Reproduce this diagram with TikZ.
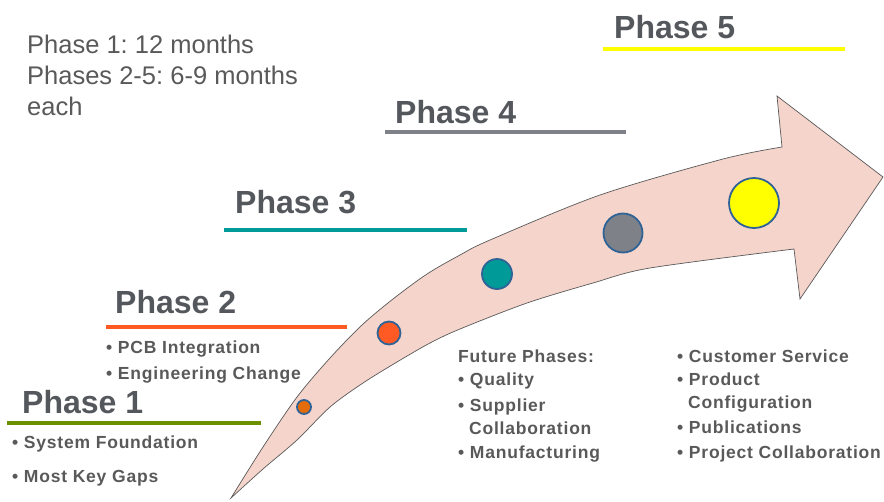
\documentclass[tikz,border=0pt]{standalone}
\usepackage{fontspec}
\setmainfont{Liberation Sans}
\newfontfamily\bulfont[LetterSpace=4.5]{Liberation Sans}
\frenchspacing
\definecolor{txt}{HTML}{595959}
\definecolor{hdrc}{HTML}{54575C}
\definecolor{arrowpink}{HTML}{F4D4CB}
\definecolor{circb}{HTML}{2F6396}
\definecolor{c1}{HTML}{E46C0A}
\definecolor{c2}{HTML}{FF5A24}
\definecolor{c3}{HTML}{009A99}
\definecolor{c4}{HTML}{7F8188}
\definecolor{c5}{HTML}{FFFF00}
\definecolor{l1}{HTML}{6A9000}
\tikzset{
  hdr/.style={anchor=base west, inner sep=0pt, text=hdrc, font=\fontsize{32}{36}\selectfont\bfseries},
  bul/.style={anchor=base west, inner sep=0pt, text=txt, font=\bulfont\fontsize{17.5}{20}\selectfont\bfseries},
  note/.style={anchor=base west, inner sep=0pt, text=txt, font=\fontsize{25.5}{30}\selectfont},
  uline/.style={line width=4.5pt},
  dot/.style={circle, draw=circb, line width=1.8pt, inner sep=0pt},
}
\begin{document}
\begin{tikzpicture}[x=1pt,y=-1pt]
\useasboundingbox (0,0) rectangle (884,501);
% arrow
\draw[fill=arrowpink, draw=black!65, line width=0.7pt, line join=miter]
  plot[smooth, tension=0.5] coordinates {(231,498) (263,447) (297,397) (330,358) (362,325) (393,299) (427,274) (460,255) (490,240) (600,195) (723,159) (782,147)}
  -- (777,96) -- (883,177) -- (800,299) -- (794,249)
  -- plot[smooth, tension=0.5] coordinates {(794,249) (650,268) (593,283) (527,303) (460,329) (430,343) (397,362) (363,383) (330,407) (297,440) (263,469) (231,498)}
  -- cycle;
% circles
\node[dot, fill=c1, minimum size=14pt] (d1) at (304,407) {};
\node[dot, fill=c2, minimum size=23pt] (d2) at (389,333) {};
\node[dot, fill=c3, minimum size=30pt] (d3) at (497,274) {};
\node[dot, fill=c4, minimum size=39pt] (d4) at (623,233) {};
\node[dot, fill=c5, minimum size=50pt] (d5) at (754,203) {};
% note
\node[note] (n1) at (27,53) {Phase 1: 12 months};
\node[note] (n2) at (27,84) {Phases 2-5: 6-9 months};
\node[note] (n3) at (27,115) {each};
% headers
\node[hdr] (h1) at (22,413) {Phase 1};
\node[hdr] (h2) at (115,313) {Phase 2};
\node[hdr] (h3) at (235,213) {Phase 3};
\node[hdr] (h4) at (395,123) {Phase 4};
\node[hdr] (h5) at (614,38) {Phase 5};
% underlines
\coordinate (u1a) at (7,423);   \coordinate (u1b) at (261,423);
\coordinate (u2a) at (106,327); \coordinate (u2b) at (347,327);
\coordinate (u3a) at (224,230); \coordinate (u3b) at (467,230);
\coordinate (u4a) at (385,132); \coordinate (u4b) at (626,132);
\coordinate (u5a) at (603,49);  \coordinate (u5b) at (845,49);
\draw[uline, l1] (u1a) -- (u1b);
\draw[uline, c2] (u2a) -- (u2b);
\draw[uline, c3] (u3a) -- (u3b);
\draw[uline, c4] (u4a) -- (u4b);
\draw[uline, c5] (u5a) -- (u5b);
% phase 1 bullets
\node[bul] (b11) at (12,448) {• System Foundation};
\node[bul] (b12) at (12,482) {• Most Key Gaps};
% phase 2 bullets
\node[bul] (b21) at (106,353) {• PCB Integration};
\node[bul] (b22) at (106,379) {• Engineering Change};
% future phases
\node[bul] (f0) at (458,362) {Future Phases:};
\node[bul] (f1) at (458,385) {• Quality};
\node[bul] (f2) at (458,411) {• Supplier};
\node[bul] (f3) at (469,434) {Collaboration};
\node[bul] (f4) at (458,458) {• Manufacturing};
% right column
\node[bul] (r1) at (677,362) {• Customer Service};
\node[bul] (r2) at (677,385) {• Product};
\node[bul] (r3) at (688,408) {Configuration};
\node[bul] (r4) at (677,433) {• Publications};
\node[bul] (r5) at (677,458) {• Project Collaboration};
\end{tikzpicture}
\end{document}
